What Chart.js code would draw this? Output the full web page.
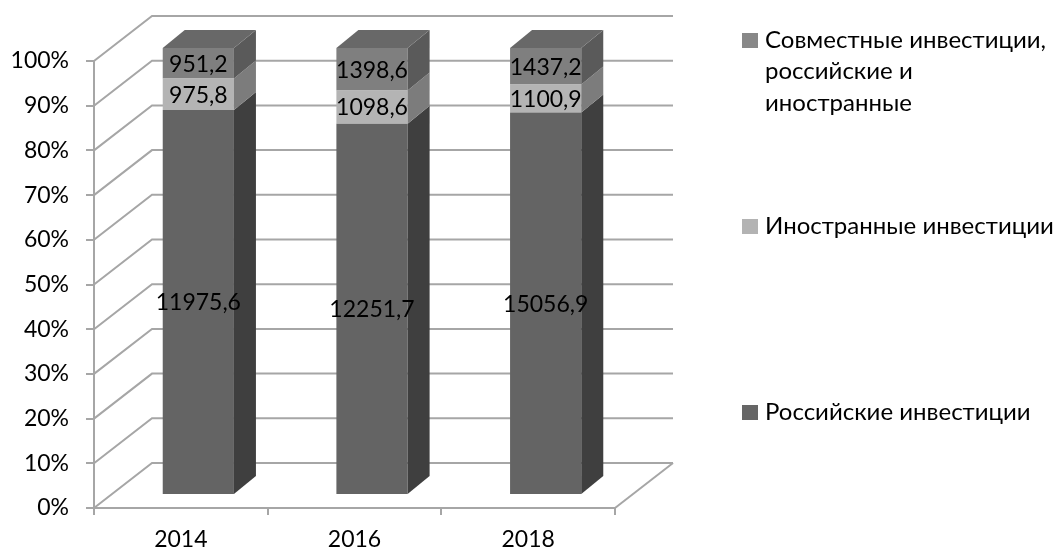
<!DOCTYPE html>
<html><head><meta charset="utf-8">
<script src="https://cdn.jsdelivr.net/npm/chart.js@4.4.0/dist/chart.umd.min.js"></script>
<style>html,body{margin:0;padding:0;background:#fff;overflow:hidden}</style>
</head><body>
<canvas id="c" width="1057" height="552" style="width:1057px;height:552px;display:block"></canvas>
<script>
// ---- data ----
const categories = ['2014', '2016', '2018'];
const russian = [11975.6, 12251.7, 15056.9];
const foreign = [975.8, 1098.6, 1100.9];
const joint = [951.2, 1398.6, 1437.2];
const seriesNames = ['Российские инвестиции', 'Иностранные инвестиции', 'Совместные инвестиции, российские и иностранные'];
const legendLines = [['Российские инвестиции'], ['Иностранные инвестиции'], ['Совместные инвестиции,', 'российские и', 'иностранные']];
const yTickValues = [0, 10, 20, 30, 40, 50, 60, 70, 80, 90, 100];

// ---- styles ----
const FONT = 'Lato, "Open Sans", sans-serif';
const GRID = '#a6a6a6';
const frontColors = ['#646464', '#b4b4b4', '#7f7f7f'];
const sideColors = ['#3f3f3f', '#7c7c7c', '#5a5a5a'];
const topColor = '#686868';
const legendSwatch = ['#666666', '#b3b3b3', '#888888'];
const WALL_DX = 58, WALL_DY = -45;   // depth of the 3D box
const BAR_DX = 17.5, BAR_DY = -13;   // front face of the bars inside the box
const SIDE_DX = 22, SIDE_DY = -18;   // bar depth

const raw = [russian, foreign, joint];
const totals = categories.map((_, i) => russian[i] + foreign[i] + joint[i]);
const pct = raw.map(arr => arr.map((v, i) => v / totals[i] * 100));
const fmt = v => v.toFixed(1).replace('.', ',');

const wallsPlugin = {
  id: 'walls',
  beforeDatasetsDraw(chart) {
    const ctx = chart.ctx, a = chart.chartArea, ys = chart.scales.y;
    ctx.save();
    ctx.strokeStyle = GRID; ctx.lineWidth = 2; ctx.lineJoin = 'miter';
    yTickValues.forEach(t => {
      const y = ys.getPixelForValue(t);
      ctx.beginPath();
      ctx.moveTo(a.left, y);
      ctx.lineTo(a.left + WALL_DX, y + WALL_DY);
      ctx.lineTo(a.right + WALL_DX, y + WALL_DY);
      ctx.stroke();
    });
    ctx.beginPath();
    ctx.moveTo(a.right, a.bottom);
    ctx.lineTo(a.right + WALL_DX, a.bottom + WALL_DY);
    ctx.stroke();
    ctx.restore();
    // move bars into the box depth
    ctx.save();
    ctx.translate(BAR_DX, BAR_DY);
  },
  afterDatasetsDraw(chart) {
    const ctx = chart.ctx;
    const n = chart.data.datasets.length;
    for (let d = 0; d < n; d++) {
      const meta = chart.getDatasetMeta(d);
      meta.data.forEach(el => {
        const p = el.getProps(['x', 'y', 'base', 'width'], true);
        const l = p.x - p.width / 2, r = p.x + p.width / 2;
        const top = Math.min(p.y, p.base), bot = Math.max(p.y, p.base);
        ctx.fillStyle = sideColors[d];
        ctx.beginPath();
        ctx.moveTo(r, top); ctx.lineTo(r + SIDE_DX, top + SIDE_DY);
        ctx.lineTo(r + SIDE_DX, bot + SIDE_DY); ctx.lineTo(r, bot);
        ctx.closePath(); ctx.fill();
        if (d === n - 1) {
          ctx.fillStyle = topColor;
          ctx.beginPath();
          ctx.moveTo(l, top); ctx.lineTo(l + SIDE_DX, top + SIDE_DY);
          ctx.lineTo(r + SIDE_DX, top + SIDE_DY); ctx.lineTo(r, top);
          ctx.closePath(); ctx.fill();
        }
      });
    }
    // value labels
    ctx.font = '23px ' + FONT;
    ctx.fillStyle = '#000';
    ctx.textAlign = 'center';
    ctx.textBaseline = 'middle';
    for (let d = 0; d < n; d++) {
      const meta = chart.getDatasetMeta(d);
      meta.data.forEach((el, i) => {
        const p = el.getProps(['x', 'y', 'base'], true);
        ctx.fillText(fmt(raw[d][i]), p.x, (p.y + p.base) / 2 + 1);
      });
    }
    ctx.restore();
  },
  afterDraw(chart) {
    const ctx = chart.ctx;
    ctx.save();
    ctx.font = '24px ' + FONT;
    ctx.fillStyle = '#000';
    ctx.textAlign = 'left';
    ctx.textBaseline = 'middle';
    const items = [
      { d: 2, y: 40 },
      { d: 1, y: 226 },
      { d: 0, y: 412 }
    ];
    items.forEach(it => {
      ctx.fillStyle = legendSwatch[it.d];
      ctx.fillRect(742, it.y - 7, 16, 15);
      ctx.fillStyle = '#000';
      legendLines[it.d].forEach((line, k) => {
        ctx.fillText(line, 765, it.y + k * 31.5);
      });
    });
    ctx.restore();
  }
};

new Chart(document.getElementById('c'), {
  type: 'bar',
  data: {
    labels: categories,
    datasets: raw.map((arr, d) => ({
      label: seriesNames[d],
      data: pct[d],
      backgroundColor: frontColors[d],
      borderWidth: 0,
      categoryPercentage: 0.41,
      barPercentage: 1,
      clip: false
    }))
  },
  options: {
    responsive: false,
    animation: false,
    devicePixelRatio: 1,
    layout: { padding: { left: 0, right: 442, top: 61, bottom: 0 } },
    plugins: { legend: { display: false }, tooltip: { enabled: false } },
    scales: {
      x: {
        stacked: true,
        grid: { display: true, drawOnChartArea: false, drawTicks: true, tickLength: 7, color: GRID, lineWidth: 2, offset: true },
        border: { display: true, color: GRID, width: 2 },
        ticks: { font: { family: FONT, size: 23 }, color: '#000', padding: 11, maxRotation: 0 },
        afterFit(s) { s.height = 44; }
      },
      y: {
        stacked: true,
        min: 0, max: 100,
        afterBuildTicks(s) { s.ticks = yTickValues.map(v => ({ value: v })); },
        grid: { display: true, drawOnChartArea: false, drawTicks: true, tickLength: 8, color: GRID, lineWidth: 2 },
        border: { display: true, color: GRID, width: 2 },
        ticks: { font: { family: FONT, size: 23 }, color: '#000', padding: 17, callback: v => v + '%' },
        afterFit(s) { s.width = 94; }
      }
    }
  },
  plugins: [wallsPlugin]
});
</script>
</body></html>
